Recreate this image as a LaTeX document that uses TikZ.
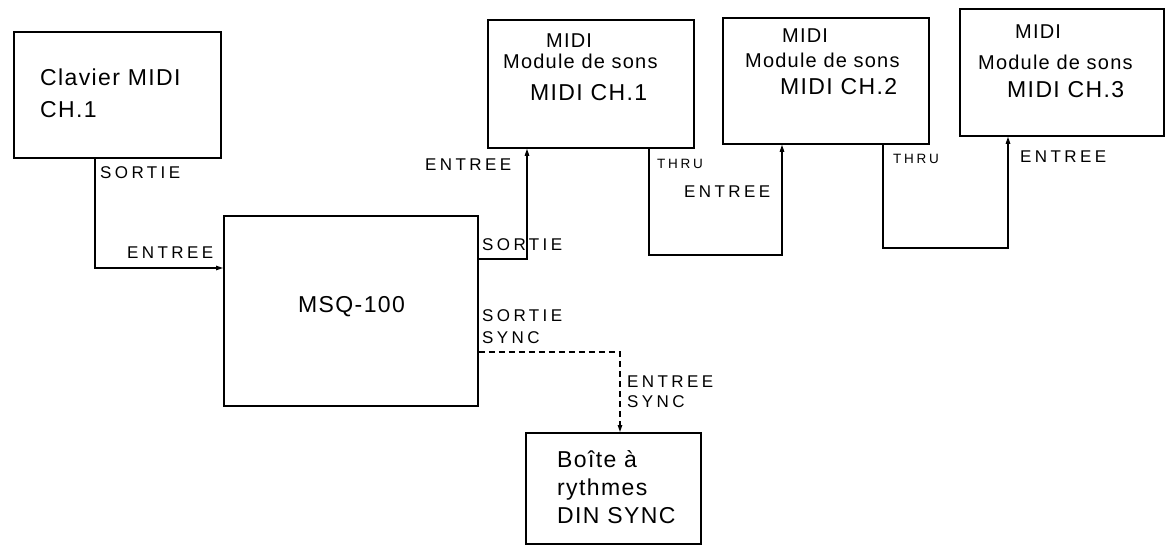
\documentclass[tikz,border=0pt]{standalone}
\usepackage{fontspec}
\setmainfont{Liberation Sans}
\newfontfamily\boxfont[LetterSpace=6]{Liberation Sans}
\newfontfamily\lblfont[LetterSpace=20]{Liberation Sans}
\usetikzlibrary{arrows.meta}
\begin{document}
\begin{tikzpicture}[x=1pt,y=-1pt,
  box/.style={draw,line width=1.8pt,inner sep=0,anchor=north west},
  conn/.style={line width=1.2pt},
  arr/.style={conn,-{Triangle[length=7pt,width=4.5pt]}},
  big/.style={anchor=base west,inner sep=0,font=\boxfont\fontsize{23}{27}\selectfont},
  mid/.style={anchor=base west,inner sep=0,font=\boxfont\fontsize{20}{24}\selectfont},
  lbl/.style={anchor=base west,inner sep=0,font=\lblfont\fontsize{17}{20}\selectfont},
  sml/.style={anchor=base west,inner sep=0,font=\lblfont\fontsize{13.5}{16}\selectfont}]
\useasboundingbox (0,0) rectangle (1170,551);
% boxes
\node[box,minimum width=207pt,minimum height=126pt] (clav) at (13,31) {};
\node[box,minimum width=254pt,minimum height=190pt] (msq) at (223,215) {};
\node[box,minimum width=206pt,minimum height=128pt] (m1) at (487,19) {};
\node[box,minimum width=206pt,minimum height=126pt] (m2) at (722,17) {};
\node[box,minimum width=204pt,minimum height=127pt] (m3) at (959,8) {};
\node[box,minimum width=175pt,minimum height=111pt] (bt) at (525,432) {};
% box texts
\node[big] (t1) at (40,85) {Clavier MIDI};
\node[big] (t2) at (40,117) {CH.1};
\node[big] (t3) at (298,312) {MSQ-100};
\node[mid] (t4) at (546,48) {MIDI};
\node[mid] (t5) at (503,69) {Module de sons};
\node[big] (t6) at (530,100) {MIDI CH.1};
\node[mid] (t7) at (782,43) {MIDI};
\node[mid] (t8) at (745,67) {Module de sons};
\node[big] (t9) at (780,95) {MIDI CH.2};
\node[mid] (t10) at (1015,39) {MIDI};
\node[mid] (t11) at (978,70) {Module de sons};
\node[big] (t12) at (1007,97) {MIDI CH.3};
\node[big] (t13) at (557,467) {Boîte à};
\node[big] (t14) at (557,495) {rythmes};
\node[big] (t15) at (557,523) {DIN SYNC};
% connector labels
\node[lbl] (l1) at (100,178) {SORTIE};
\node[lbl] (l2) at (127,258) {ENTREE};
\node[lbl] (l3) at (482,250) {SORTIE};
\node[lbl] (l4) at (425,170) {ENTREE};
\node[sml] (l5) at (657,168) {THRU};
\node[lbl] (l6) at (684,197) {ENTREE};
\node[sml] (l7) at (893,163) {THRU};
\node[lbl] (l8) at (1020,162) {ENTREE};
\node[lbl] (l9) at (482,321) {SORTIE};
\node[lbl] (l10) at (482,343) {SYNC};
\node[lbl] (l11) at (627,387) {ENTREE};
\node[lbl] (l12) at (627,407) {SYNC};
% connectors
\coordinate (c1) at (95,268);
\coordinate (c2) at (527,259);
\coordinate (c3) at (649,255);
\coordinate (c4) at (782,255);
\coordinate (c5) at (883,248);
\coordinate (c6) at (1008,248);
\coordinate (c7) at (620,352);
\draw[arr] (clav.south -| c1) |- (c1 -| msq.west);
\draw[arr] (c2 -| msq.east) -| (m1.south -| c2);
\draw[arr] (m1.south -| c3) |- (c4) -- (m2.south -| c4);
\draw[arr] (m2.south -| c5) |- (c6) -- (m3.south -| c6);
\draw[arr,dash pattern=on 6pt off 4pt] (c7 -| msq.east) -| (bt.north -| c7);
\end{tikzpicture}
\end{document}
